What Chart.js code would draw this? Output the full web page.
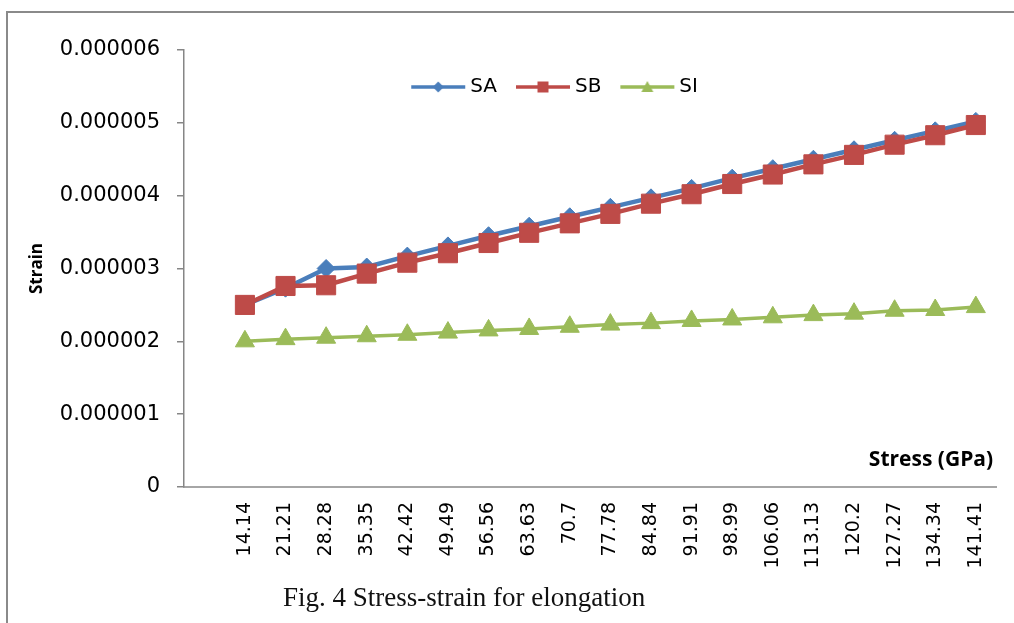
<!DOCTYPE html>
<html>
<head>
<meta charset="utf-8">
<script src="https://cdn.jsdelivr.net/npm/chart.js@4.4.1/dist/chart.umd.min.js"></script>
<style>
  body { margin: 0; background: #fff; }
  #wrap { position: relative; width: 1014px; height: 623px; overflow: hidden; }
  #frame { position: absolute; left: 6px; top: 11px; width: 2000px; height: 2000px; border-left: 2px solid #8a8a8a; border-top: 2px solid #8a8a8a; }
  #caption { position: absolute; left: 283px; top: 582px; font: 27px "Liberation Serif", serif; color: #111; white-space: nowrap; }
  canvas { position: absolute; left: 0; top: 0; }
</style>
</head>
<body>
<div id="wrap">
  <div id="frame"></div>
  <canvas id="chart" width="1014" height="623"></canvas>
  <div id="caption">Fig. 4 Stress-strain for elongation</div>
</div>
<script>
// stress values (GPa), first slot is an empty category like in the original sheet
const stressLabels = ["", "14.14", "21.21", "28.28", "35.35", "42.42", "49.49", "56.56", "63.63", "70.7",
  "77.78", "84.84", "91.91", "98.99", "106.06", "113.13", "120.2", "127.27", "134.34", "141.41"];

const saValues = [null, 2.50e-6, 2.73e-6, 3.00e-6, 3.02e-6, 3.17e-6, 3.31e-6, 3.45e-6, 3.58e-6, 3.71e-6,
  3.84e-6, 3.97e-6, 4.10e-6, 4.24e-6, 4.37e-6, 4.50e-6, 4.63e-6, 4.76e-6, 4.89e-6, 5.02e-6];
const sbValues = [null, 2.50e-6, 2.76e-6, 2.77e-6, 2.93e-6, 3.08e-6, 3.21e-6, 3.35e-6, 3.49e-6, 3.62e-6,
  3.75e-6, 3.89e-6, 4.02e-6, 4.16e-6, 4.29e-6, 4.43e-6, 4.56e-6, 4.70e-6, 4.83e-6, 4.97e-6];
const siValues = [null, 2.00e-6, 2.03e-6, 2.05e-6, 2.07e-6, 2.09e-6, 2.12e-6, 2.15e-6, 2.17e-6, 2.20e-6,
  2.23e-6, 2.25e-6, 2.28e-6, 2.30e-6, 2.33e-6, 2.36e-6, 2.38e-6, 2.42e-6, 2.43e-6, 2.47e-6];

const strainTicks = [0, 1e-6, 2e-6, 3e-6, 4e-6, 5e-6, 6e-6];

const colors = { sa: "#4A7EBB", sb: "#BE4B48", si: "#9BBB59" };

// legend icon: short line with the marker in the middle (excel style)
function legendIcon(color, shape) {
  const c = document.createElement("canvas");
  c.width = 56;
  c.height = 20;
  const ctx = c.getContext("2d");
  ctx.strokeStyle = color;
  ctx.fillStyle = color;
  ctx.lineWidth = 3.5;
  ctx.beginPath();
  ctx.moveTo(1, 10);
  ctx.lineTo(55, 10);
  ctx.stroke();
  ctx.beginPath();
  if (shape === "diamond") {
    ctx.moveTo(28, 4.5); ctx.lineTo(33.5, 10); ctx.lineTo(28, 15.5); ctx.lineTo(22.5, 10);
  } else if (shape === "square") {
    ctx.rect(22.5, 4.5, 11, 11);
  } else {
    ctx.moveTo(28, 4); ctx.lineTo(34, 15); ctx.lineTo(22, 15);
  }
  ctx.closePath();
  ctx.fill();
  return c;
}
const icons = [legendIcon(colors.sa, "diamond"), legendIcon(colors.sb, "square"), legendIcon(colors.si, "triangle")];

// x axis title sits inside the plot, just above the axis at the right end
const stressTitle = {
  id: "stressTitle",
  afterDraw(chart) {
    const { ctx, chartArea } = chart;
    ctx.save();
    ctx.font = "bold 21px 'Open Sans'";
    ctx.fillStyle = "#000";
    ctx.textAlign = "right";
    ctx.textBaseline = "middle";
    ctx.fillText("Stress (GPa)", chartArea.right - 3, chartArea.bottom - 27);
    ctx.restore();
  },
};

// legend lives inside the plot area, laid out in one row, a bit left of centre
const legendInPlot = {
  id: "legendInPlot",
  beforeLayout(chart) {
    chart.legend.isHorizontal = () => true;
  },
  afterLayout(chart) {
    chart.legend.left = chart.chartArea.left - 33;
    chart.legend.right = chart.chartArea.right - 33;
    chart.legend.top = chart.chartArea.top + 3;
  },
};

new Chart(document.getElementById("chart"), {
  type: "line",
  data: {
    labels: stressLabels,
    datasets: [
      {
        label: "SA",
        data: saValues,
        borderColor: colors.sa,
        backgroundColor: colors.sa,
        borderWidth: 4.5,
        pointStyle: "rectRot",
        pointRadius: 9,
        pointBorderWidth: 1,
        order: 2,
      },
      {
        label: "SB",
        data: sbValues,
        borderColor: colors.sb,
        backgroundColor: colors.sb,
        borderWidth: 4.5,
        pointStyle: "rect",
        pointRadius: 13.5,
        pointBorderWidth: 1,
        order: 1,
      },
      {
        label: "SI",
        data: siValues,
        borderColor: colors.si,
        backgroundColor: colors.si,
        borderWidth: 3.5,
        pointStyle: "triangle",
        pointRadius: 11,
        pointBorderWidth: 1,
        order: 0,
      },
    ],
  },
  options: {
    responsive: false,
    animation: false,
    layout: { padding: { top: 50, right: 14, left: 0, bottom: 0 } },
    scales: {
      x: {
        type: "category",
        offset: true,
        border: { color: "#a6a6a6", width: 2 },
        grid: { display: false, drawTicks: false },
        ticks: {
          autoSkip: false,
          maxRotation: 90,
          minRotation: 90,
          padding: 15,
          color: "#000",
          font: { family: "DejaVu Sans", size: 19 },
        },
        afterFit(scale) {
          scale.height = 136;
        },
      },
      y: {
        min: 0,
        max: 6e-6,
        border: { color: "#868686", width: 1.5 },
        grid: { drawOnChartArea: false, tickLength: 7, color: "#868686", lineWidth: 1.5 },
        afterBuildTicks(scale) {
          scale.ticks = strainTicks.map((v) => ({ value: v }));
        },
        ticks: {
          padding: 17,
          color: "#000",
          font: { family: "DejaVu Sans", size: 21 },
          callback: (v) => (v === 0 ? "0" : v.toFixed(6)),
        },
        title: {
          display: true,
          text: "Strain",
          color: "#000",
          font: { family: "Open Sans", size: 17, weight: "bold" },
          padding: { top: 27, bottom: 0 },
        },
        afterFit(scale) {
          scale.width = 184;
        },
      },
    },
    plugins: {
      tooltip: { enabled: false },
      legend: {
        position: "chartArea",
        align: "center",
        labels: {
          usePointStyle: true,
          pointStyleWidth: 44,
          boxHeight: 20,
          padding: 24,
          color: "#000",
          font: { family: "DejaVu Sans", size: 20 },
          generateLabels: (chart) =>
            chart.data.datasets.map((ds, i) => ({
              text: ds.label,
              pointStyle: icons[i],
              fillStyle: ds.borderColor,
              strokeStyle: ds.borderColor,
              lineWidth: 0,
              hidden: false,
              datasetIndex: i,
              fontColor: "#000",
            })),
        },
      },
    },
  },
  plugins: [stressTitle, legendInPlot],
});
</script>
</body>
</html>
